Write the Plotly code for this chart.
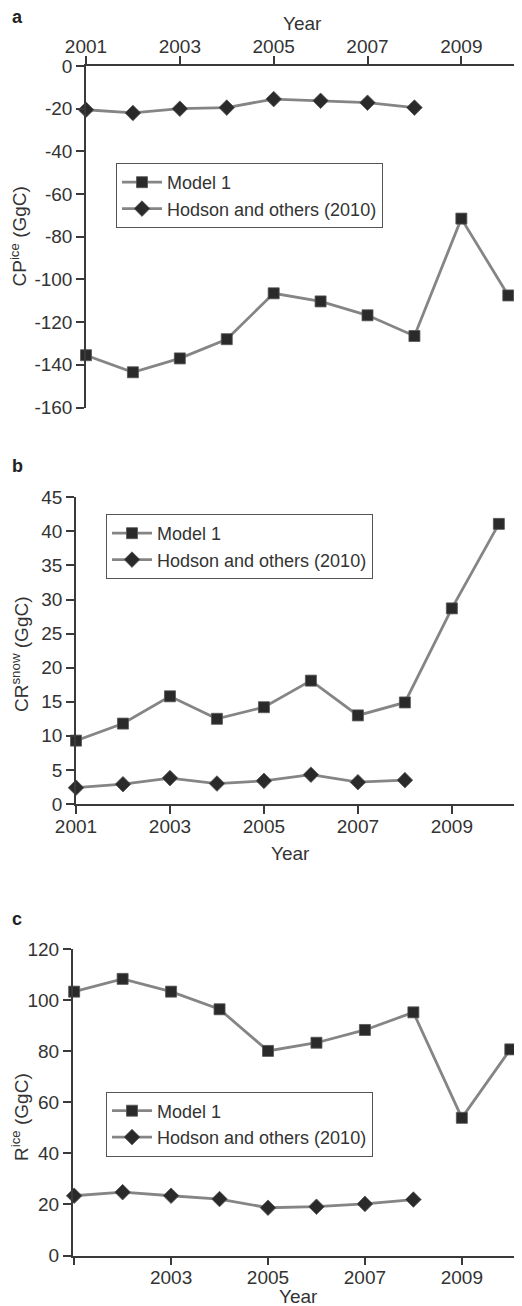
import plotly.graph_objects as go

years_model = [2001, 2002, 2003, 2004, 2005, 2006, 2007, 2008, 2009, 2010]
years_hodson = [2001, 2002, 2003, 2004, 2005, 2006, 2007, 2008]

cp_ice_model = [-135.5, -143.5, -137, -128, -106.5, -110.3, -116.8, -126.5, -71.5, -107.5]
cp_ice_hodson = [-20.5, -22, -20, -19.5, -15.5, -16.3, -17.2, -19.5]

cr_snow_model = [9.3, 11.8, 15.8, 12.5, 14.2, 18.1, 13.0, 14.9, 28.7, 41.1]
cr_snow_hodson = [2.4, 2.9, 3.8, 3.0, 3.4, 4.3, 3.2, 3.5]

r_ice_model = [103.3, 108.3, 103.3, 96.4, 80.1, 83.3, 88.3, 95.2, 53.9, 80.7]
r_ice_hodson = [23.4, 24.8, 23.4, 22.1, 18.7, 19.1, 20.2, 21.9]

tick_years = [2001, 2003, 2005, 2007, 2009]
tick_labels_c = ["", "2003", "2005", "2007", "2009"]

a_ticks = [0, -20, -40, -60, -80, -100, -120, -140, -160]
a_tick_labels = ["0", "-20", "-40", "-60", "-80", "-100", "-120", "-140", "-160"]

series_names = ["Model 1", "Hodson and others (2010)"]
y_titles = ["CP<sup>ice</sup> (GgC)", "CR<sup>snow</sup> (GgC)", "R<sup>ice</sup> (GgC)"]
x_title = "Year"
panel_labels = ["a", "b", "c"]

# page body has an 8px margin; lay out in screen pixels and compensate
OFF = 8
W, H = 522 - OFF, 1306 - OFF
FONT = "Liberation Sans, Arial, Helvetica, sans-serif"
TXT = "#333333"
LINE = "#858585"
MARK = "#2a2a2a"
AX = "#3a3a3a"


def px_x(p):
    return (p - OFF) / W


def px_y(p):
    return 1 - (p - OFF) / H


fig = go.Figure()

panels = [
    ("x", "y", "legend", cp_ice_model, cp_ice_hodson),
    ("x2", "y2", "legend2", cr_snow_model, cr_snow_hodson),
    ("x3", "y3", "legend3", r_ice_model, r_ice_hodson),
]

for xa, ya, lg, m, h in panels:
    fig.add_trace(go.Scatter(
        x=years_model, y=m, name=series_names[0], mode="lines+markers",
        xaxis=xa, yaxis=ya, legend=lg, cliponaxis=False,
        line=dict(color=LINE, width=2.8),
        marker=dict(symbol="square", size=11, color=MARK,
                    line=dict(color="#555555", width=0.8)),
    ))
    fig.add_trace(go.Scatter(
        x=years_hodson, y=h, name=series_names[1], mode="lines+markers",
        xaxis=xa, yaxis=ya, legend=lg, cliponaxis=False,
        line=dict(color=LINE, width=2.8),
        marker=dict(symbol="diamond", size=12, color=MARK,
                    line=dict(color="#555555", width=0.8)),
    ))

axis_common = dict(
    showgrid=False, zeroline=False, showline=True, linecolor=AX, linewidth=1.5,
    ticks="outside", ticklen=8, tickwidth=1.5, tickcolor=AX, automargin=False,
    tickfont=dict(family=FONT, size=19, color=TXT),
)
xaxis_common = dict(axis_common, ticklabelstandoff=-4)

legend_common = dict(
    bgcolor="white", bordercolor="#555555", borderwidth=1,
    font=dict(family=FONT, size=18, color=TXT),
    xanchor="left", yanchor="top", itemwidth=40, tracegroupgap=0,
    entrywidth=290, entrywidthmode="pixels",
)

fig.update_layout(
    width=W, height=H,
    margin=dict(l=0, r=0, t=0, b=0, autoexpand=False),
    paper_bgcolor="white", plot_bgcolor="white",
    font=dict(family=FONT, color=TXT),
    # Panel a
    xaxis=dict(xaxis_common, domain=[px_x(86), px_x(520)], range=[2001, 2010.25],
               side="top", anchor="y", tickvals=tick_years),
    yaxis=dict(axis_common, domain=[px_y(407.5), px_y(66)], range=[-160, 0],
               anchor="x", tickvals=a_ticks, ticktext=a_tick_labels),
    # Panel b
    xaxis2=dict(xaxis_common, domain=[px_x(76), px_x(520)], range=[2001, 2010.45],
                anchor="y2", tickvals=tick_years),
    yaxis2=dict(axis_common, domain=[px_y(804), px_y(497.3)], range=[0, 45],
                anchor="x2", dtick=5),
    # Panel c
    xaxis3=dict(xaxis_common, domain=[px_x(72.7), px_x(520)], range=[2000.97, 2010.2],
                anchor="y3", tickvals=tick_years, ticktext=tick_labels_c),
    yaxis3=dict(axis_common, domain=[px_y(1255.5), px_y(949)], range=[0, 120],
                anchor="x3", dtick=20),
    legend=dict(legend_common, x=px_x(116), y=px_y(163)),
    legend2=dict(legend_common, x=px_x(106), y=px_y(514)),
    legend3=dict(legend_common, x=px_x(106), y=px_y(1091.5)),
    showlegend=True,
)


def note(text, x, y, size=19, angle=0, color=TXT):
    fig.add_annotation(text=text, xref="paper", yref="paper",
                       x=px_x(x), y=px_y(y), xanchor="center", yanchor="middle",
                       textangle=angle, showarrow=False,
                       font=dict(family=FONT, size=size, color=color))


for lab, (x, y) in zip(panel_labels, [(17, 17), (17, 466), (17, 919)]):
    note("<b>%s</b>" % lab, x, y, size=18, color="#222222")

for x, y in [(302, 23), (290, 853), (298, 1296)]:
    note(x_title, x, y)

for t, (x, y) in zip(y_titles, [(18.5, 237), (20, 654), (20, 1117)]):
    note(t, x, y, angle=-90)

fig.write_html("out.html")
